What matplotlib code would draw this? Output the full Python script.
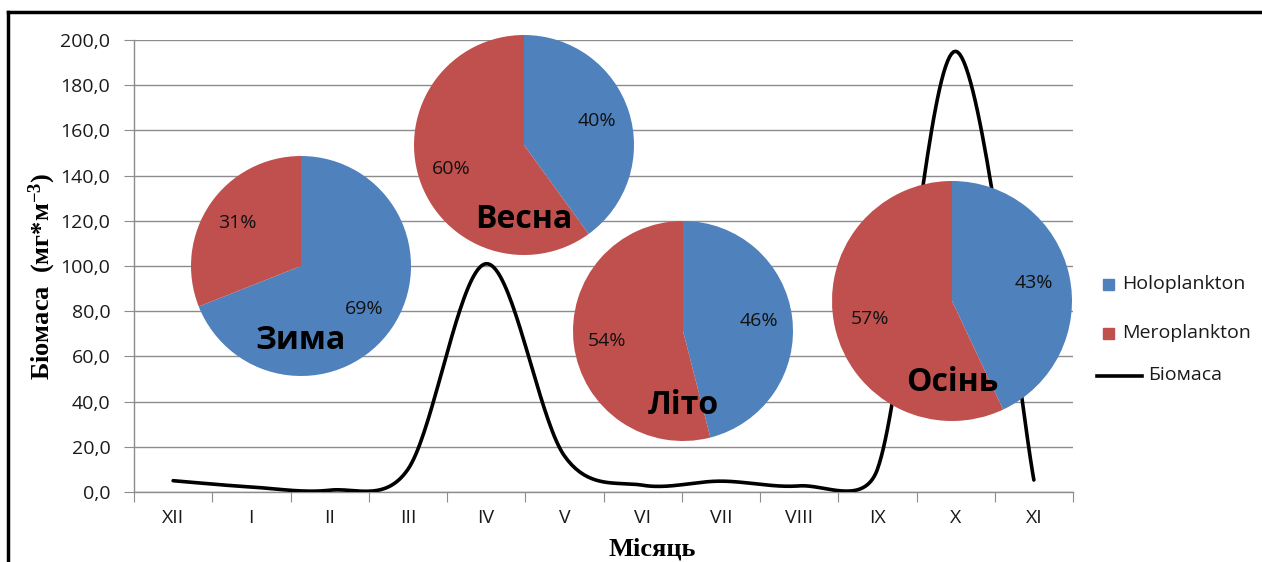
import numpy as np
import matplotlib
matplotlib.use('Agg')
import matplotlib.pyplot as plt
from matplotlib.lines import Line2D
from matplotlib.patches import Rectangle

months = ['XII', 'I', 'II', 'III', 'IV', 'V', 'VI', 'VII', 'VIII', 'IX', 'X', 'XI']
biomass = [5.0, 2.2, 0.8, 10.0, 101.0, 16.0, 3.0, 4.8, 2.7, 10.0, 195.0, 5.3]

seasons = ['Зима', 'Весна', 'Літо', 'Осінь']
holoplankton = [69, 40, 46, 43]
meroplankton = [31, 60, 54, 57]

W, H = 1262, 562
BLUE = '#4F81BD'
RED = '#C0504D'
GRID = '#8C8C8C'

plt.rcParams['font.family'] = ['Open Sans', 'DejaVu Sans']
plt.rcParams['mathtext.default'] = 'regular'


def px(x, y, w=0, h=0):
    # pixel box (top-left origin) -> figure fraction rect
    return [x / W, 1 - (y + h) / H, w / W, h / H]


def smooth(xs, ys, sx, sy, n=40):
    # excel-like bezier smoothing, done in pixel space
    p = np.column_stack([np.asarray(xs, float) * sx, np.asarray(ys, float) * sy])
    out = [p[0]]
    t = np.linspace(0, 1, n)[1:, None]
    for i in range(len(p) - 1):
        p0 = p[i - 1] if i > 0 else p[i]
        p1, p2 = p[i], p[i + 1]
        p3 = p[i + 2] if i + 2 < len(p) else p[i + 1]
        seg = np.linalg.norm(p2 - p1)
        a = (p2 - p0) / 6
        b = (p3 - p1) / 6
        if np.linalg.norm(a) > seg / 2:
            a = a / np.linalg.norm(a) * seg / 2
        if np.linalg.norm(b) > seg / 2:
            b = b / np.linalg.norm(b) * seg / 2
        c1, c2 = p1 + a, p2 - b
        out.extend((1 - t) ** 3 * p1 + 3 * (1 - t) ** 2 * t * c1
                   + 3 * (1 - t) * t ** 2 * c2 + t ** 3 * p2)
    out = np.array(out)
    return out[:, 0] / sx, out[:, 1] / sy


fig = plt.figure(figsize=(W / 100, H / 100), dpi=100)

# main line chart
ax_w, ax_h = 939, 452
ax = fig.add_axes(px(134, 40, ax_w, ax_h))
x = np.arange(len(months))
sx, sy = ax_w / len(months), ax_h / 200.0
xs, ys = smooth(x, biomass, sx, sy)
ax.plot(xs, ys, color='black', lw=2.6, solid_capstyle='round', zorder=3)

ax.set_xlim(-0.5, len(months) - 0.5)
ax.set_ylim(0, 200)
yt = np.arange(0, 201, 20)
ax.set_yticks(yt)
ax.set_yticklabels([f'{v:.1f}'.replace('.', ',') for v in yt], fontsize=14, color='#1a1a1a')
ax.set_xticks(np.arange(-0.5, len(months)), minor=False)
ax.set_xticklabels([])
ax.set_xticks(x, minor=True)
ax.set_xticklabels(months, minor=True, fontsize=14, color='#1a1a1a')
ax.tick_params(axis='x', which='major', length=7, color=GRID, direction='out')
ax.tick_params(axis='x', which='minor', length=0, pad=12)
ax.tick_params(axis='y', length=7, color=GRID, pad=10)
ax.grid(axis='y', color=GRID, lw=1)
ax.set_axisbelow(True)
for s in ['top', 'right']:
    ax.spines[s].set_visible(False)
for s in ['left', 'bottom']:
    ax.spines[s].set_color(GRID)
    ax.spines[s].set_linewidth(1)

fig.text(42 / W, 1 - 276 / H, 'Біомаса  (мг*м$^{-3}$)', rotation=90,
         ha='center', va='center', fontsize=19, fontweight='bold',
         family=['Liberation Serif', 'DejaVu Serif'])
fig.text(652 / W, 1 - 549 / H, 'Місяць', ha='center', va='center',
         fontsize=19, fontweight='bold', family=['Liberation Serif', 'DejaVu Serif'])

# season pies (centre x, centre y, radius in px)
pie_pos = [(301, 266, 110), (524, 145, 110), (683, 331, 110), (952, 301, 120)]
for name, h, m, (cx, cy, r) in zip(seasons, holoplankton, meroplankton, pie_pos):
    pax = fig.add_axes(px(cx - r, cy - r, 2 * r, 2 * r))
    wedges, texts, autotexts = pax.pie(
        [h, m], colors=[BLUE, RED], startangle=90, counterclock=False,
        autopct='%d%%', pctdistance=0.7, radius=1,
        wedgeprops=dict(linewidth=0),
        textprops=dict(fontsize=14, color='#111111'))
    pax.set_xlim(-1, 1)
    pax.set_ylim(-1, 1)
    pax.axis('off')
    pax.text(0, -0.68, name, ha='center', va='center', fontsize=23,
             fontweight='bold', color='black')

# legend
fig.add_artist(Rectangle((1103 / W, 1 - 290 / H), 11 / W, 11 / H,
                         transform=fig.transFigure, color=BLUE))
fig.text(1122 / W, 1 - 284 / H, 'Holoplankton', fontsize=14, va='center', color='#1a1a1a')
fig.add_artist(Rectangle((1103 / W, 1 - 339 / H), 11 / W, 11 / H,
                         transform=fig.transFigure, color=RED))
fig.text(1122 / W, 1 - 333 / H, 'Meroplankton', fontsize=14, va='center', color='#1a1a1a')
fig.add_artist(Line2D([1097 / W, 1142 / W], [1 - 376 / H, 1 - 376 / H],
                      transform=fig.transFigure, color='black', lw=2.6))
fig.text(1148 / W, 1 - 375 / H, 'Біомаса', fontsize=14, va='center', color='#1a1a1a')

# outer frame (top and left edges visible)
fig.add_artist(Line2D([8 / W, 1.0], [1 - 12 / H, 1 - 12 / H],
                      transform=fig.transFigure, color='black', lw=2.5))
fig.add_artist(Line2D([8 / W, 8 / W], [0, 1 - 12 / H],
                      transform=fig.transFigure, color='black', lw=2.5))

fig.savefig('out.png', dpi=100)
